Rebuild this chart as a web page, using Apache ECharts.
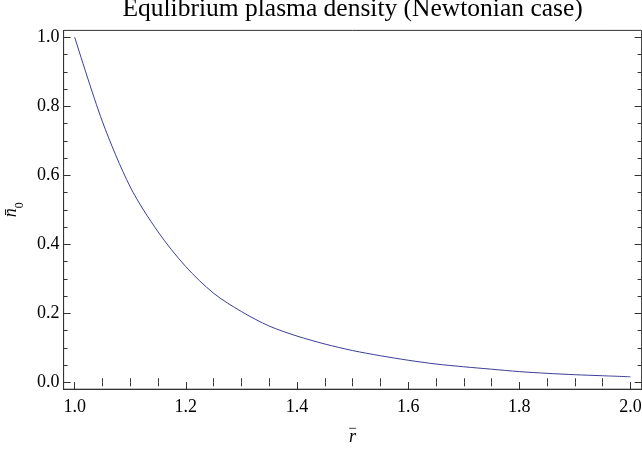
<!DOCTYPE html>
<html>
<head>
<meta charset="utf-8">
<script src="https://cdn.jsdelivr.net/npm/echarts@6/dist/echarts.min.js"></script>
<style>
html,body{margin:0;padding:0;background:#fff;}
#chart{width:642px;height:451px;}
</style>
</head>
<body>
<div id="chart"></div>
<script>
const rValues = [1.0, 1.05, 1.1, 1.15, 1.2, 1.25, 1.3, 1.35, 1.4, 1.45, 1.5, 1.55, 1.6, 1.65, 1.7, 1.75, 1.8, 1.85, 1.9, 1.95, 2.0];
const nValues = [1.0, 0.755, 0.566, 0.436, 0.335, 0.258, 0.205, 0.163, 0.134, 0.111, 0.092, 0.077, 0.064, 0.053, 0.045, 0.038, 0.031, 0.026, 0.022, 0.019, 0.016];
const xMajorTicks = [1.0, 1.2, 1.4, 1.6, 1.8, 2.0];
const xMinorTicks = [1.05, 1.1, 1.15, 1.25, 1.3, 1.35, 1.45, 1.5, 1.55, 1.65, 1.7, 1.75, 1.85, 1.9, 1.95];
const yMajorTicks = [0.0, 0.2, 0.4, 0.6, 0.8, 1.0];
const yMinorTicks = [0.05, 0.1, 0.15, 0.25, 0.3, 0.35, 0.45, 0.5, 0.55, 0.65, 0.7, 0.75, 0.85, 0.9, 0.95];
const titleText = 'Equlibrium plasma density (Newtonian case)';
const xName = 'r';
const yName = 'n\u0304';
const ySub = '0';

const FONT = '"Liberation Serif", "Times New Roman", serif';
const FRAME = '#333333';
const XMIN = 0.98, XMAX = 2.02, YMIN = -0.02, YMAX = 1.02;

function xAx(opts) {
  return Object.assign({
    type: 'value', min: XMIN, max: XMAX, gridIndex: 0,
    splitLine: {show: false},
    axisLine: {show: false},
    axisLabel: {show: false},
    axisTick: {show: false}
  }, opts);
}
function yAx(opts) {
  return Object.assign({
    type: 'value', min: YMIN, max: YMAX, gridIndex: 0,
    splitLine: {show: false},
    axisLine: {show: false},
    axisLabel: {show: false},
    axisTick: {show: false}
  }, opts);
}

const chart = echarts.init(document.getElementById('chart'));
chart.setOption({
  animation: false,
  backgroundColor: '#ffffff',
  title: {
    text: titleText, left: 352.6, top: -4, textAlign: 'center', padding: 0,
    textStyle: {fontFamily: FONT, fontSize: 25.5, fontWeight: 'normal', color: '#000'}
  },
  grid: {left: 63.6, top: 30.4, width: 578, height: 358.8, containLabel: false, outerBoundsMode: 'none',
    show: true, borderColor: FRAME, borderWidth: 1, backgroundColor: 'transparent'},
  xAxis: [
    xAx({
      position: 'bottom',
      name: '{bar|\u2212}\n{v|' + xName + '}', nameLocation: 'middle', nameGap: 34,
      nameTextStyle: {
        fontFamily: FONT, color: '#000', align: 'center',
        rich: {
          bar: {fontFamily: FONT, fontSize: 15, lineHeight: 6, color: '#000', align: 'center'},
          v: {fontFamily: FONT, fontSize: 18, fontStyle: 'italic', lineHeight: 12, color: '#000', align: 'center'}
        }
      },
      axisLine: {show: true, onZero: false, lineStyle: {color: FRAME, width: 1}},
      axisTick: {show: true, inside: true, length: 7, lineStyle: {color: FRAME}, customValues: xMajorTicks},
      axisLabel: {show: true, margin: 9, fontFamily: FONT, fontSize: 18, color: '#000', customValues: xMajorTicks,
        formatter: v => v.toFixed(1)}
    }),
    xAx({position: 'bottom', axisTick: {show: true, inside: true, length: 4, lineStyle: {color: FRAME}, customValues: xMinorTicks}}),
    xAx({position: 'top', axisTick: {show: true, inside: true, length: 7, lineStyle: {color: FRAME}, customValues: xMajorTicks}}),
    xAx({position: 'top', axisTick: {show: true, inside: true, length: 4, lineStyle: {color: FRAME}, customValues: xMinorTicks}})
  ],
  yAxis: [
    yAx({
      position: 'left',
      name: '{v|' + yName + '}{s|' + ySub + '}', nameLocation: 'middle', nameGap: 37.5, nameRotate: 90,
      nameTextStyle: {
        fontFamily: FONT, color: '#000', align: 'center',
        rich: {
          v: {fontFamily: FONT, fontSize: 18, fontStyle: 'italic', lineHeight: 12, padding: [0, 0, 6, 0], verticalAlign: 'bottom', color: '#000'},
          s: {fontFamily: FONT, fontSize: 12, lineHeight: 10, verticalAlign: 'bottom', color: '#000'}
        }
      },
      axisLine: {show: true, onZero: false, lineStyle: {color: FRAME, width: 1}},
      axisTick: {show: true, inside: true, length: 7, lineStyle: {color: FRAME}, customValues: yMajorTicks},
      axisLabel: {show: true, margin: 4, fontFamily: FONT, fontSize: 18, color: '#000', customValues: yMajorTicks,
        formatter: v => v.toFixed(1)}
    }),
    yAx({position: 'left', axisTick: {show: true, inside: true, length: 4, lineStyle: {color: FRAME}, customValues: yMinorTicks}}),
    yAx({position: 'right', axisTick: {show: true, inside: true, length: 7, lineStyle: {color: FRAME}, customValues: yMajorTicks}}),
    yAx({position: 'right', axisTick: {show: true, inside: true, length: 4, lineStyle: {color: FRAME}, customValues: yMinorTicks}})
  ],
  series: [{
    type: 'line',
    xAxisIndex: 0, yAxisIndex: 0,
    data: rValues.map((r, i) => [r, nValues[i]]),
    showSymbol: false,
    smooth: 0.3,
    lineStyle: {color: '#3d3d99', width: 1},
    itemStyle: {color: '#3d3d99'}
  }]
});
</script>
</body>
</html>
